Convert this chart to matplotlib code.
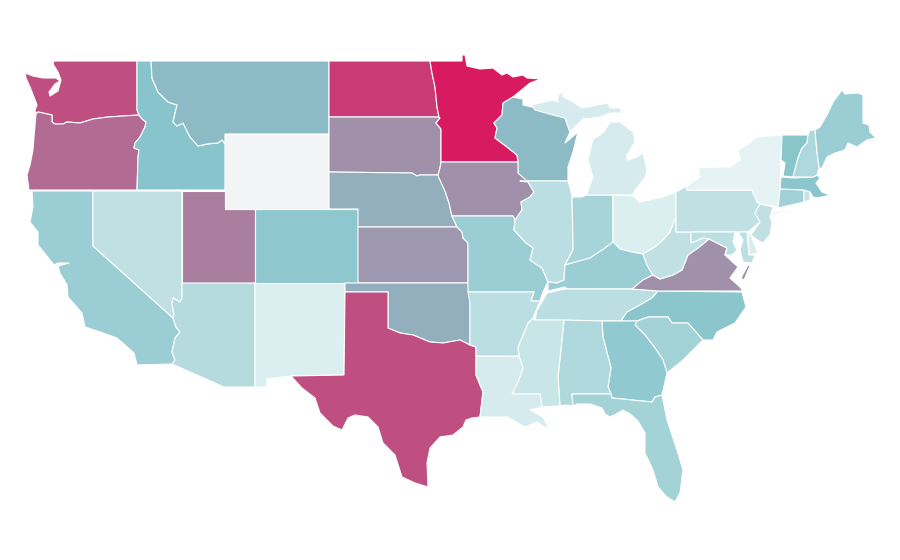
import numpy as np
import matplotlib
matplotlib.use("Agg")
import matplotlib.pyplot as plt
from matplotlib.colors import LinearSegmentedColormap

# no map data available offline, outlines (900x560 pixel space)
outlines = {
    "WA": [[(54,61),(137,61),(137,110),(139,115),(108,117),(93,119),(80,123),(67,122),(63,124),(55,124),(52,122),(52,115),(43,113),(38,112),(36,114),(35,110),(37,105),(34,97),(30,87),(26,78),(25,73),(33,76),(43,78),(50,78),(56,78),(60,81),(55,84),(49,92),(50,96),(58,91),(61,80),(58,72),(53,64)]],
    "OR": [[(36,114),(38,112),(43,113),(52,115),(52,122),(55,124),(63,124),(67,122),(80,123),(93,119),(108,117),(139,115),(142,119),(146,122),(145,127),(140,137),(135,143),(134,148),(139,150),(138,157),(137,190),(29,190),(27,175),(30,165),(33,150),(34,137)]],
    "CA": [[(32,191),(93,191),(93,246),(173,318),(176,327),(180,332),(175,338),(172,352),(175,360),(172,364),(137,365),(134,353),(117,338),(103,333),(85,327),(82,313),(68,297),(67,285),(60,273),(58,266),(69,263),(58,263),(54,265),(50,260),(38,245),(38,232),(30,222),(33,207)]],
    "NV": [[(93,191),(182,191),(182,298),(180,302),(173,298),(172,303),(174,315),(173,318),(93,246)]],
    "UT": [[(182,191),(225,191),(225,209),(255,209),(255,283),(182,283)]],
    "AZ": [[(182,283),(255,283),(255,387),(224,387),(172,364),(175,360),(172,352),(175,338),(180,332),(176,327),(173,318),(174,315),(172,303),(173,298),(180,302),(182,298)]],
    "NM": [[(255,283),(344,283),(345,292),(344,375),(291,376),(267,379),(267,387),(255,387)]],
    "WY": [[(225,134),(328,134),(328,209),(225,209)]],
    "ID": [[(137,61),(151,61),(152,78),(158,92),(168,102),(177,105),(173,122),(177,126),(183,123),(190,137),(198,146),(207,144),(218,143),(222,140),(225,144),(225,190),(137,190),(138,157),(139,150),(134,148),(135,143),(140,137),(145,127),(146,122),(142,119),(139,115),(137,110)]],
    "MT": [[(151,61),(329,61),(329,134),(225,134),(225,144),(222,140),(218,143),(207,144),(198,146),(190,137),(183,123),(177,126),(173,122),(177,105),(168,102),(158,92),(152,78)]],
    "CO": [[(255,209),(358,209),(358,283),(255,283)]],
    "ND": [[(329,61),(430,61),(432,73),(435,87),(437,107),(439,117),(329,117)]],
    "SD": [[(329,117),(439,117),(440,118),(436,123),(441,129),(441,162),(440,168),(438,175),(430,175),(420,175),(417,176),(412,173),(329,172)]],
    "NE": [[(329,172),(412,173),(417,176),(420,175),(430,175),(438,175),(439,178),(445,191),(449,203),(452,216),(457,227),(358,227),(358,209),(329,209)]],
    "KS": [[(358,227),(457,227),(462,232),(463,238),(468,243),(468,283),(358,283)]],
    "OK": [[(345,283),(468,283),(470,303),(470,345),(460,340),(443,343),(430,342),(413,335),(400,333),(388,328),(388,292),(345,292)]],
    "TX": [[(345,292),(388,292),(388,328),(400,333),(413,335),(430,342),(443,343),(460,340),(470,345),(476,347),(476,375),(483,392),(480,417),(472,418),(466,420),(463,427),(453,435),(440,437),(430,448),(427,463),(428,487),(415,483),(402,477),(395,455),(383,443),(378,427),(368,417),(355,415),(348,418),(342,430),(333,426),(320,413),(315,398),(302,388),(291,376),(344,375)]],
    "MN": [[(430,61),(462,61),(462,55),(465,55),(467,66),(480,69),(493,68),(502,75),(507,73),(513,77),(523,75),(527,78),(541,79),(530,83),(513,97),(503,103),(502,115),(494,123),(497,128),(495,138),(507,147),(517,155),(518,162),(441,162),(441,129),(436,123),(440,118),(439,117),(437,107),(435,87),(432,73)]],
    "WI": [[(503,103),(513,97),(523,99),(523,105),(532,107),(547,112),(565,118),(570,132),(565,143),(578,132),(573,152),(568,167),(568,181),(520,181),(518,173),(518,162),(517,155),(507,147),(495,138),(497,128),(494,123),(502,115)]],
    "IA": [[(441,162),(518,162),(518,173),(528,182),(534,192),(530,197),(521,202),(522,210),(515,220),(513,216),(452,216),(449,203),(445,191),(439,178),(438,175),(440,168)]],
    "MO": [[(452,216),(513,216),(515,220),(514,230),(525,242),(533,248),(530,260),(542,268),(548,282),(543,292),(540,301),(531,301),(534,292),(468,292),(468,243),(463,238),(462,232),(457,227)]],
    "IL": [[(520,181),(568,181),(572,195),(573,243),(573,250),(565,265),(564,280),(557,283),(548,282),(542,268),(530,260),(533,248),(525,242),(514,230),(515,220),(522,210),(521,202),(530,197),(534,192),(528,182)]],
    "IN": [[(572,197),(582,197),(586,195),(613,195),(613,242),(605,248),(590,258),(565,265),(573,250),(573,243)]],
    "MI": [[(587,193),(593,177),(588,160),(593,139),(600,135),(605,130),(610,122),(620,122),(633,132),(635,142),(627,155),(627,160),(635,158),(643,153),(647,170),(645,178),(635,190),(633,195),(613,195),(586,195)],
           [(532,105),(540,103),(553,100),(558,102),(558,95),(567,90),(562,96),(573,102),(582,108),(597,105),(608,103),(610,108),(620,108),(622,113),(610,113),(600,117),(583,119),(575,127),(570,132),(565,118),(553,115),(535,110)]],
    "OH": [[(613,195),(633,196),(640,202),(663,197),(676,192),(676,217),(670,232),(663,240),(655,247),(643,254),(632,252),(620,249),(613,242)]],
    "KY": [[(548,282),(557,283),(564,280),(565,265),(590,258),(605,248),(613,242),(620,249),(632,252),(643,254),(647,265),(653,275),(643,280),(632,289),(567,289),(565,287),(548,291)]],
    "TN": [[(547,293),(565,289),(632,289),(658,291),(652,298),(640,305),(627,312),(621,321),(535,320),(537,310),(542,302)]],
    "NC": [[(658,291),(742,292),(746,307),(735,323),(717,332),(713,340),(703,340),(688,323),(672,323),(668,317),(648,317),(637,321),(621,321),(627,312),(640,305),(652,298)]],
    "SC": [[(637,321),(648,317),(668,317),(672,323),(688,323),(703,340),(683,360),(667,373),(663,360),(655,348),(645,335),(635,325)]],
    "GA": [[(602,321),(637,321),(635,325),(645,335),(655,348),(663,360),(667,373),(662,395),(655,397),(652,402),(612,398),(611,394),(608,387),(611,368),(603,337)]],
    "AL": [[(564,320),(602,321),(603,337),(611,368),(608,387),(611,394),(572,394),(573,406),(565,405),(560,406),(558,377)]],
    "MS": [[(535,320),(564,320),(558,377),(560,406),(542,407),(540,394),(512,394),(518,382),(523,368),(519,356),(518,347),(528,323),(533,318)]],
    "LA": [[(476,356),(519,356),(523,368),(518,382),(512,394),(540,394),(542,407),(530,410),(543,417),(549,430),(537,422),(525,427),(507,417),(488,417),(480,417),(483,392),(476,375)]],
    "AR": [[(468,292),(534,292),(531,301),(540,301),(533,318),(528,323),(518,347),(519,356),(476,356),(476,347),(470,345),(470,303)]],
    "FL": [[(572,394),(611,394),(612,398),(652,402),(655,397),(662,395),(667,420),(677,450),(683,470),(680,493),(675,502),(667,497),(658,487),(653,470),(645,453),(645,433),(638,421),(630,414),(623,410),(616,414),(610,417),(605,414),(602,408),(590,404),(577,404),(573,406)]],
    "VA": [[(632,289),(643,280),(653,275),(660,279),(673,275),(682,270),(688,255),(698,248),(709,239),(717,243),(727,248),(725,255),(738,267),(730,278),(740,287),(743,291),(658,291)],
           [(748,265),(750,266),(744,280),(741,278)]],
    "WV": [[(676,217),(676,232),(691,232),(691,243),(703,238),(709,239),(698,248),(688,255),(682,270),(673,275),(660,279),(653,275),(647,265),(643,254),(655,247),(663,240),(670,232)]],
    "PA": [[(676,192),(687,186),(687,190),(752,190),(757,202),(760,204),(755,213),(760,222),(748,232),(676,232)]],
    "NY": [[(687,190),(687,186),(700,177),(698,168),(720,167),(730,167),(740,160),(738,150),(747,145),(757,137),(780,135),(782,137),(781,160),(780,189),(778,208),(773,206),(760,204),(757,202),(752,190)],
           [(772,215),(802,208),(773,212)]],
    "NJ": [[(760,204),(773,207),(770,217),(772,222),(770,235),(763,243),(757,240),(751,235),(760,222),(755,213)]],
    "DE": [[(748,232),(751,235),(758,253),(749,255)]],
    "MD": [[(691,232),(735,232),(733,242),(737,250),(732,255),(725,255),(727,248),(717,243),(709,239),(703,238),(691,243)],
           [(738,232),(747,232),(749,255),(755,255),(752,263),(743,262),(740,250),(743,240)]],
    "CT": [[(780,189),(804,190),(804,202),(778,208)]],
    "RI": [[(804,190),(810,192),(810,200),(804,202)]],
    "MA": [[(781,177),(793,178),(813,177),(817,175),(820,178),(816,183),(822,192),(830,195),(818,198),(813,197),(810,192),(804,190),(780,189)]],
    "VT": [[(782,135),(808,135),(807,143),(802,148),(798,158),(793,177),(783,176),(785,163),(781,160)]],
    "NH": [[(810,130),(815,130),(817,152),(819,168),(817,175),(813,177),(793,177),(798,158),(802,148),(807,143),(808,135)]],
    "ME": [[(815,130),(820,127),(828,113),(833,102),(842,90),(845,94),(858,93),(863,95),(863,123),(869,125),(870,132),(876,138),(867,140),(857,147),(848,143),(845,150),(835,153),(827,157),(822,168),(819,168),(817,152)]],
}

states = ["WA","OR","CA","NV","UT","AZ","NM","WY","ID","MT","CO","ND","SD","NE","KS","OK","TX","MN","WI","IA","MO","IL","IN","MI","OH","KY","TN","NC","SC","GA","AL","MS","LA","AR","FL","VA","WV","PA","NY","NJ","DE","MD","CT","RI","MA","VT","NH","ME"]
values = [0.845,0.76,0.40,0.21,0.71,0.265,0.07,np.nan,0.50,0.53,0.47,0.905,0.655,0.57,0.63,0.57,0.845,1.0,0.53,0.655,0.40,0.24,0.34,0.10,0.07,0.40,0.235,0.49,0.36,0.46,0.29,0.165,0.10,0.235,0.36,0.655,0.21,0.21,0.015,0.21,0.08,0.23,0.37,0.19,0.485,0.495,0.30,0.40]

cmap = LinearSegmentedColormap.from_list("rate", ["#e8f4f6", "#88c5cb", "#d81b60"])
no_data = "#f3f4f6"

fig = plt.figure(figsize=(9, 5.6), dpi=100)
ax = fig.add_axes([0, 0, 1, 1])
ax.set_xlim(0, 900)
ax.set_ylim(560, 0)
ax.axis("off")

for st, val in zip(states, values):
    col = no_data if np.isnan(val) else cmap(val)
    for ring in outlines[st]:
        xs, ys = zip(*ring)
        ax.fill(xs, ys, facecolor=col, edgecolor="white", linewidth=0.8, joinstyle="round")

fig.savefig("out.png", dpi=100)
